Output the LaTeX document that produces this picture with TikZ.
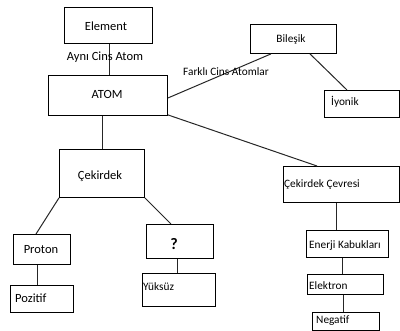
\documentclass[tikz,border=0pt]{standalone}
\usepackage{fontspec}
\setmainfont{Carlito}
\begin{document}
\begin{tikzpicture}[x=1pt,y=-1pt,
  box/.style={draw=black,line width=0.9pt,rectangle,inner sep=0pt,anchor=north west},
  big/.style={font=\fontsize{12.5}{14}\selectfont},
  small/.style={font=\fontsize{11.3}{13}\selectfont},
  lbl/.style={inner sep=0pt},
  conn/.style={draw=black!85,line width=1pt}]
\useasboundingbox (0,0) rectangle (400,331);
% boxes
\node[box,minimum width=88pt,minimum height=36pt] (element) at (64,7) {};
\node[box,minimum width=119pt,minimum height=40pt] (atom) at (48,75) {};
\node[box,minimum width=86pt,minimum height=29pt] (bilesik) at (250,24) {};
\node[box,minimum width=75pt,minimum height=27pt] (iyonik) at (324,90) {};
\node[box,minimum width=85pt,minimum height=48pt] (cekirdek) at (59,149) {};
\node[box,minimum width=57pt,minimum height=30pt] (proton) at (13,234) {};
\node[box,minimum width=63pt,minimum height=27pt] (pozitif) at (10,285) {};
\node[box,minimum width=67pt,minimum height=34pt] (soru) at (146,224) {};
\node[box,minimum width=73pt,minimum height=33pt] (yuksuz) at (142,273) {};
\node[box,minimum width=116pt,minimum height=36pt] (cevre) at (283,166) {};
\node[box,minimum width=82pt,minimum height=27pt] (enerji) at (306,230) {};
\node[box,minimum width=76pt,minimum height=20pt] (elektron) at (307,274) {};
\node[box,minimum width=67pt,minimum height=18pt] (negatif) at (312,312) {};
% texts
\node[lbl,big] (telement) at (106,26) {Element};
\node[lbl,big] (tatom) at (107,94) {ATOM};
\node[lbl,small] (tbilesik) at (291,40) {Bileşik};
\node[lbl,small,anchor=west] (tiyonik) at (331,102) {İyonik};
\node[lbl,big] (tcekirdek) at (100,176) {Çekirdek};
\node[lbl,big] (tproton) at (41,250) {Proton};
\node[lbl,big,anchor=west] (tpozitif) at (15,298) {Pozitif};
\node[lbl,font=\fontsize{16}{18}\selectfont\bfseries] (tsoru) at (174,244) {?};
\node[lbl,small,anchor=west] (tyuksuz) at (143,287) {Yüksüz};
\node[lbl,small,anchor=west] (tcevre) at (284,185) {Çekirdek Çevresi};
\node[lbl,small,anchor=west] (tenerji) at (309,246) {Enerji Kabukları};
\node[lbl,small,anchor=west] (telektron) at (309,286) {Elektron};
\node[lbl,small,anchor=west] (tnegatif) at (316,321) {Negatif};
% connectors
\draw[conn] ([xshift=45.5pt]element.south west) -- ([xshift=61.5pt]atom.north west);
\draw[conn] ([yshift=-23pt]atom.north east) -- ([xshift=21pt]bilesik.south west);
\draw[conn] ([xshift=60pt]bilesik.south west) -- ([xshift=23pt]iyonik.north west);
\draw[conn] ([yshift=1pt]atom.south east) -- ([xshift=34pt]cevre.north west);
\draw[conn] ([xshift=54.5pt]atom.south west) -- ([xshift=43.5pt]cekirdek.north west);
\draw[conn] (cekirdek.south west) -- ([xshift=23pt]proton.north west);
\draw[conn] (cekirdek.south east) -- ([xshift=25pt]soru.north west);
\draw[conn] ([xshift=24.5pt]proton.south west) -- ([xshift=27.5pt]pozitif.north west);
\draw[conn] ([xshift=31.5pt]soru.south west) -- ([xshift=35.5pt]yuksuz.north west);
\draw[conn] ([xshift=53.5pt]cevre.south west) -- ([xshift=30.5pt]enerji.north west);
\draw[conn] ([xshift=36.5pt]enerji.south west) -- ([xshift=35.5pt]elektron.north west);
\draw[conn] ([xshift=36.5pt]elektron.south west) -- ([xshift=31.5pt]negatif.north west);
% edge labels
\node[lbl,big] (aynicins) at (105,57) {Aynı Cins Atom};
\node[lbl,small] (farkli) at (226,72) {Farklı Cins Atomlar};
\end{tikzpicture}
\end{document}
